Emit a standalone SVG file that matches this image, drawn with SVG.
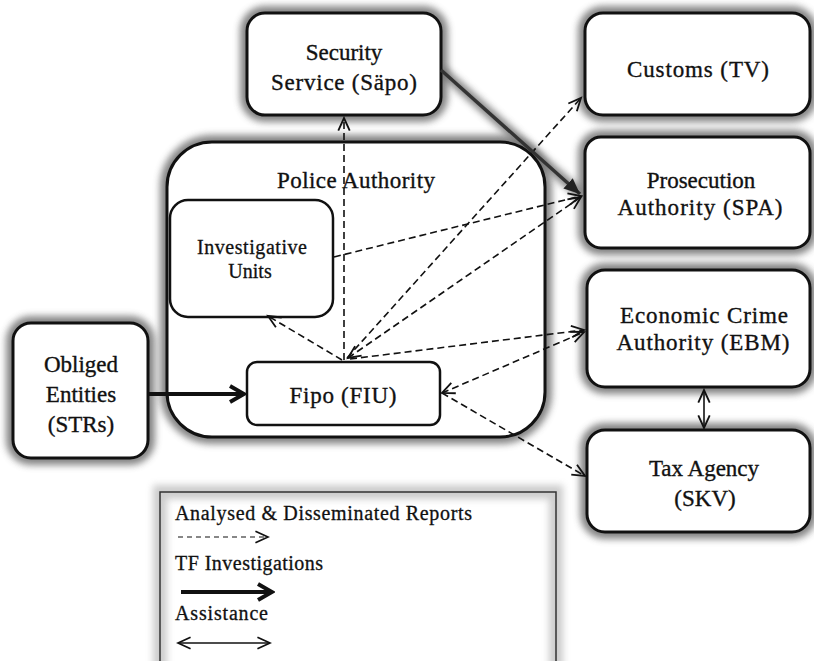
<svg xmlns="http://www.w3.org/2000/svg" width="814" height="661" viewBox="0 0 814 661">
  <style>
    .box { fill: #ffffff; stroke: #111; stroke-width: 3; }
    .inner { fill: #ffffff; stroke: #111; stroke-width: 2.5; }
    .halo { fill: none; stroke: #6f6f6f; stroke-width: 14; filter: url(#blur); opacity: 0.85; }
    .t { font-family: "Liberation Serif", "Times New Roman", serif; font-size: 23px; fill: #111; stroke: #111; stroke-width: 0.35; text-anchor: middle; }
    .ts { font-family: "Liberation Serif", "Times New Roman", serif; font-size: 20px; fill: #111; stroke: #111; stroke-width: 0.3; text-anchor: middle; }
    .tl { font-family: "Liberation Serif", "Times New Roman", serif; font-size: 20px; fill: #111; stroke: #111; stroke-width: 0.3; }
    .dash { fill: none; stroke: #111; stroke-width: 1.6; stroke-dasharray: 7 4; }
    .thick { fill: none; stroke: #111; stroke-width: 4; }
    .thin { fill: none; stroke: #111; stroke-width: 1.6; }
  </style>
  <defs>
    <filter id="blur" x="-20%" y="-20%" width="140%" height="140%">
      <feGaussianBlur stdDeviation="3.5"/>
    </filter>
    <marker id="chev" markerUnits="userSpaceOnUse" markerWidth="16" markerHeight="16" refX="12" refY="6" orient="auto-start-reverse" viewBox="0 0 14 12">
      <path d="M1,1 L12,6 L1,11" fill="none" stroke="#111" stroke-width="1.6"/>
    </marker>
    <marker id="chevBig" markerUnits="userSpaceOnUse" markerWidth="20" markerHeight="22" refX="17" refY="10" orient="auto" viewBox="0 0 20 20">
      <path d="M3,2 L17,10 L3,18" fill="none" stroke="#111" stroke-width="4"/>
    </marker>
    <marker id="solid" markerUnits="userSpaceOnUse" markerWidth="18" markerHeight="16" refX="16" refY="7" orient="auto" viewBox="0 0 18 14">
      <path d="M0,0 L16,7 L0,14 Z" fill="#222"/>
    </marker>
  </defs>
  <rect x="0" y="0" width="814" height="661" fill="#ffffff"/>

  <!-- halos -->
  <g id="halos">
    <rect class="halo" x="247" y="13" width="194" height="102" rx="18"/>
    <rect class="halo" x="585" y="13" width="225" height="102" rx="18"/>
    <rect class="halo" x="585" y="137" width="225" height="111" rx="16"/>
    <rect class="halo" x="587" y="270" width="223" height="117" rx="18"/>
    <rect class="halo" x="587" y="430" width="223" height="102" rx="18"/>
    <rect class="halo" x="167" y="142" width="378" height="295" rx="45"/>
    <rect class="halo" x="13" y="323" width="135" height="135" rx="18"/>
    <line class="halo" x1="441" y1="70" x2="580" y2="194" style="stroke-width:10"/>
    <path class="halo" d="M160,670 V492 H556 V670" style="opacity:0.35"/>
  </g>

  <g id="police">
    <rect class="box" x="167" y="142" width="378" height="295" rx="45"/>
    <text class="t" x="356" y="188" textLength="158" lengthAdjust="spacing">Police Authority</text>
  </g>

  <g id="sapo">
    <rect class="box" x="247" y="13" width="194" height="102" rx="18"/>
    <text class="t" x="344" y="60">Security</text>
    <text class="t" x="344" y="90" textLength="146" lengthAdjust="spacing">Service (Säpo)</text>
  </g>

  <g id="customs">
    <rect class="box" x="585" y="13" width="225" height="102" rx="18"/>
    <text class="t" x="698" y="77" textLength="142" lengthAdjust="spacing">Customs (TV)</text>
  </g>

  <g id="spa">
    <rect class="box" x="585" y="137" width="225" height="111" rx="16"/>
    <text class="t" x="701" y="188">Prosecution</text>
    <text class="t" x="700" y="215" textLength="165" lengthAdjust="spacing">Authority (SPA)</text>
  </g>

  <g id="ebm">
    <rect class="box" x="587" y="270" width="223" height="117" rx="18"/>
    <text class="t" x="704" y="323" textLength="168" lengthAdjust="spacing">Economic Crime</text>
    <text class="t" x="703" y="350" textLength="173" lengthAdjust="spacing">Authority (EBM)</text>
  </g>

  <g id="tax">
    <rect class="box" x="587" y="430" width="223" height="102" rx="18"/>
    <text class="t" x="704" y="476">Tax Agency</text>
    <text class="t" x="705" y="506">(SKV)</text>
  </g>

  <g id="investigative">
    <rect class="inner" x="170" y="200" width="163" height="117" rx="18"/>
    <text class="ts" x="252" y="254" textLength="110" lengthAdjust="spacing">Investigative</text>
    <text class="ts" x="250" y="278">Units</text>
  </g>

  <g id="fipo">
    <rect class="inner" x="247" y="362" width="193" height="63" rx="10"/>
    <text class="t" x="343" y="403" textLength="107" lengthAdjust="spacing">Fipo (FIU)</text>
  </g>

  <g id="obliged">
    <rect class="box" x="13" y="323" width="135" height="135" rx="18"/>
    <text class="t" x="81" y="372">Obliged</text>
    <text class="t" x="81" y="402">Entities</text>
    <text class="t" x="81" y="432">(STRs)</text>
  </g>

  <g id="connectors">
    <line class="dash" x1="344" y1="360" x2="344" y2="118" marker-end="url(#chev)"/>
    <line class="dash" x1="342" y1="360" x2="268" y2="316" marker-end="url(#chev)"/>
    <line class="dash" x1="347" y1="358" x2="581" y2="98" marker-end="url(#chev)"/>
    <line class="dash" x1="348" y1="358" x2="581" y2="197" marker-start="url(#chev)" marker-end="url(#chev)"/>
    <line class="dash" x1="350" y1="359" x2="584" y2="330" marker-end="url(#chev)"/>
    <line class="dash" x1="334" y1="257" x2="581" y2="196" marker-end="url(#chev)"/>
    <line class="dash" x1="442" y1="393" x2="584" y2="332" marker-start="url(#chev)" marker-end="url(#chev)"/>
    <line class="dash" x1="442" y1="393" x2="585" y2="476" marker-end="url(#chev)"/>
    <line class="thick" x1="148" y1="394" x2="244" y2="394" marker-end="url(#chevBig)"/>
    <line class="thick" x1="441" y1="70" x2="580" y2="194" marker-end="url(#solid)" style="stroke:#333;stroke-width:3.5"/>
    <line class="thin" x1="704" y1="390" x2="704" y2="428" marker-start="url(#chev)" marker-end="url(#chev)"/>
  </g>

  <g id="legend">
    <path d="M160,661 V492 H556 V661" fill="none" stroke="#333" stroke-width="1.5"/>
    <text class="tl" x="175" y="520" textLength="297" lengthAdjust="spacing">Analysed &amp; Disseminated Reports</text>
    <line class="thin" x1="178" y1="537" x2="268" y2="537" style="stroke-dasharray:5 4;stroke-width:1.2" marker-end="url(#chev)"/>
    <text class="tl" x="175" y="570" textLength="148" lengthAdjust="spacing">TF Investigations</text>
    <line class="thick" x1="181" y1="592" x2="272" y2="592" marker-end="url(#chevBig)"/>
    <text class="tl" x="175" y="620" textLength="93" lengthAdjust="spacing">Assistance</text>
    <line class="thin" x1="178" y1="643" x2="270" y2="643" marker-start="url(#chev)" marker-end="url(#chev)"/>
  </g>
</svg>
